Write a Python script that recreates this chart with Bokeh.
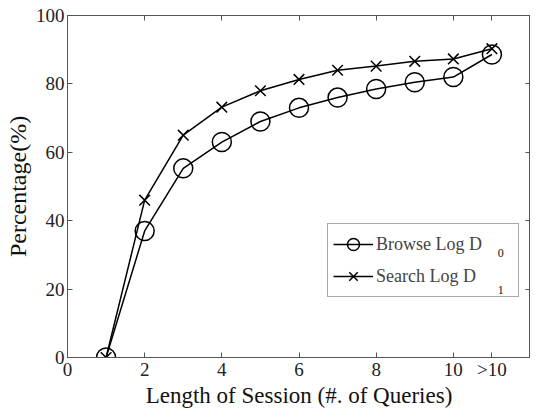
from bokeh.plotting import figure
from bokeh.models import Range1d, FixedTicker, LinearAxis, Legend, LegendItem, Label
from bokeh.embed import file_html
from bokeh.resources import INLINE

x_vals = [1, 2, 3, 4, 5, 6, 7, 8, 9, 10, 11]
browse = [0, 37, 55.3, 63, 69, 73, 76, 78.5, 80.5, 82, 88.6]
search = [0, 46, 65, 73.2, 78, 81.3, 84, 85.2, 86.6, 87.3, 90.3]
x_ticks = [0, 2, 4, 6, 8, 10, 11]
x_tick_labels = {0: "0", 2: "2", 4: "4", 6: "6", 8: "8", 10: "10", 11: ">10"}
y_ticks = [0, 20, 40, 60, 80, 100]
series_names = ["Browse Log D", "Search Log D"]
series_subs = ["0", "1"]

FONT = "Liberation Serif"
AX = "#555555"

p = figure(width=530, height=410, output_backend="svg", toolbar_location=None,
           x_range=Range1d(0, 12), y_range=Range1d(0, 100),
           min_border_left=67, min_border_right=0, min_border_top=15, min_border_bottom=52,
           x_axis_label="Length of Session (#. of Queries)", y_axis_label="Percentage(%)")
p.grid.visible = False
p.outline_line_color = AX
p.background_fill_color = "white"
p.border_fill_color = "white"

p.xaxis.ticker = FixedTicker(ticks=x_ticks)
p.xaxis.major_label_overrides = x_tick_labels
p.yaxis.ticker = FixedTicker(ticks=y_ticks)

for ax in [p.xaxis[0], p.yaxis[0]]:
    ax.major_tick_in = 5
    ax.major_tick_out = 0
    ax.minor_tick_line_color = None
    ax.axis_line_color = AX
    ax.major_tick_line_color = AX
    ax.major_label_text_font = FONT
    ax.major_label_text_font_size = "19px"
    ax.major_label_text_color = "#222222"
    ax.axis_label_text_font = FONT
    ax.axis_label_text_font_style = "normal"
    ax.axis_label_text_color = "#111111"
p.xaxis.axis_label_text_font_size = "23px"
p.yaxis.axis_label_text_font_size = "24px"
p.xaxis.major_label_standoff = 1
p.xaxis.axis_label_standoff = 0
p.yaxis.major_label_standoff = 3
p.yaxis.axis_label_standoff = 2

top = LinearAxis(ticker=FixedTicker(ticks=x_ticks),
                 major_label_overrides={t: "" for t in x_ticks},
                 major_label_standoff=0,
                 major_tick_in=5, major_tick_out=0, minor_tick_line_color=None,
                 axis_line_color=AX, major_tick_line_color=AX)
right = LinearAxis(ticker=FixedTicker(ticks=y_ticks),
                   major_label_overrides={t: "" for t in y_ticks},
                   major_label_standoff=0,
                   major_tick_in=5, major_tick_out=0, minor_tick_line_color=None,
                   axis_line_color=AX, major_tick_line_color=AX)
p.add_layout(top, "above")
p.add_layout(right, "right")

l1 = p.line(x_vals, browse, line_color="black", line_width=1.5)
m1 = p.scatter(x_vals, browse, marker="circle", size=19, fill_color=None,
               line_color="black", line_width=1.5)
l2 = p.line(x_vals, search, line_color="black", line_width=1.5)
m2 = p.scatter(x_vals, search, marker="x", size=15, line_color="black", line_width=1.5)

legend = Legend(items=[LegendItem(label=series_names[0], renderers=[l1, m1]),
                       LegendItem(label=series_names[1], renderers=[l2, m2])],
                location=(260, 60), label_text_font=FONT, label_text_font_size="18px",
                border_line_color=AX, border_line_width=1, glyph_width=40, glyph_height=30,
                label_standoff=3, padding=5, spacing=2, background_fill_alpha=0,
                label_height=30, label_width=137)
p.add_layout(legend, "center")

# subscripts of the legend labels (placed in data units next to the legend text)
for t, yy in zip(series_subs, [30.6, 19.8]):
    p.add_layout(Label(x=11.23, y=yy, text=t,
                       text_font=FONT, text_font_size="12px", text_align="center",
                       text_baseline="middle", text_color="#111111"))

open("out.html", "w").write(file_html(p, INLINE))
